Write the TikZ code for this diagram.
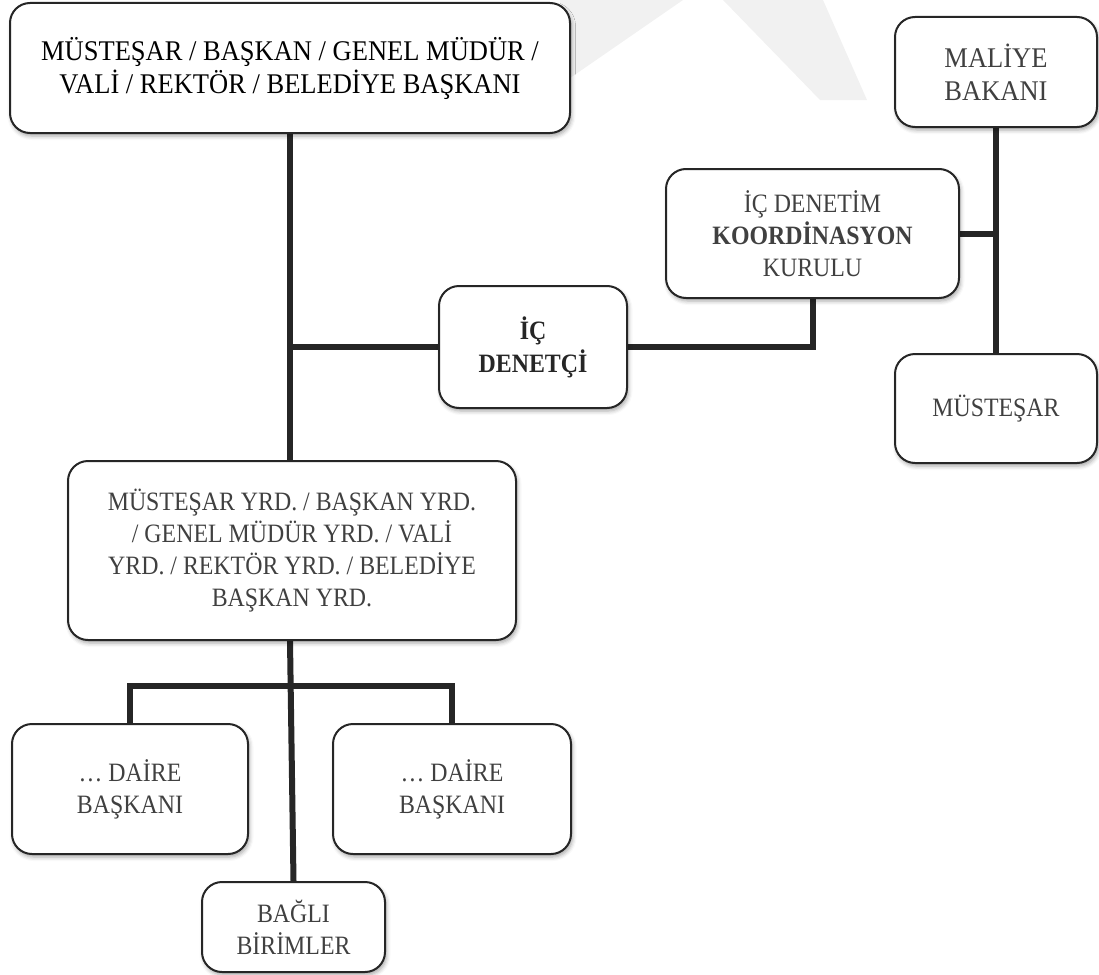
\documentclass[tikz,border=0pt]{standalone}
\usepackage{fontspec}
\setmainfont{Liberation Serif}
\newfontfamily\camfont[FakeStretch=0.9]{Liberation Serif}
\newfontfamily\tnrfont[FakeStretch=0.93]{Liberation Serif}
\usetikzlibrary{shadows.blur}
\definecolor{ink}{RGB}{38,38,38}
\definecolor{txt}{RGB}{64,64,64}
\definecolor{markgray}{RGB}{241,241,241}
\pgfdeclarelayer{bg}
\pgfsetlayers{bg,main}
\begin{document}
\begin{tikzpicture}[x=1pt,y=-1pt,
  box/.style={draw=ink, line width=2pt, fill=white, rounded corners=20pt,
    inner sep=0pt, align=center, text=txt,
    font=\camfont\fontsize{26.5}{32}\selectfont,
    blur shadow={shadow xshift=1.5pt, shadow yshift=-3pt,
      shadow blur radius=4pt, shadow opacity=35}},
  timesbox/.style={box, font=\tnrfont\fontsize{28.5}{33}\selectfont},
  boldbox/.style={box, text=ink, font=\camfont\fontsize{26.5}{33}\selectfont\bfseries},
  link/.style={draw=ink, line width=6pt}
]
\useasboundingbox (0,0) rectangle (1099,974);

% boxes
\node[timesbox, text=black, minimum width=560pt, minimum height=130pt] (top) at (290,68)
  {MÜSTEŞAR / BAŞKAN / GENEL MÜDÜR /\\VALİ / REKTÖR / BELEDİYE BAŞKANI};
\node[timesbox, minimum width=202pt, minimum height=110pt] (maliye) at (996,72)
  {MALİYE\\BAKANI};
\node[box, minimum width=293pt, minimum height=129pt] (kurul) at (812.5,233.5)
  {İÇ DENETİM\\\textbf{KOORDİNASYON}\\KURULU};
\node[box, minimum width=202pt, minimum height=109pt] (mustesar) at (996,408.5)
  {MÜSTEŞAR};
\node[boldbox, minimum width=188pt, minimum height=122pt] (denetci) at (533,347)
  {İÇ\\DENETÇİ};
\node[box, minimum width=448pt, minimum height=179pt] (yrd) at (292,550.5)
  {MÜSTEŞAR YRD. / BAŞKAN YRD.\\/ GENEL MÜDÜR YRD. / VALİ\\YRD. / REKTÖR YRD. / BELEDİYE\\BAŞKAN YRD.};
\node[box, minimum width=236pt, minimum height=130pt] (daire1) at (130,789)
  {… DAİRE\\BAŞKANI};
\node[box, minimum width=238pt, minimum height=130pt] (daire2) at (452,789)
  {… DAİRE\\BAŞKANI};
\node[box, minimum width=183pt, minimum height=90pt] (bagli) at (293.5,927)
  {BAĞLI\\BİRİMLER};
\coordinate (fork) at (290,686);

\begin{pgfonlayer}{bg}
  % faint background mark
  \fill[markgray] (560,0) -- (683,0) -- (560,85) -- cycle;
  \fill[markgray] (723,0) -- (823,0) -- (867,100) -- (820,100) -- cycle;
  % connectors
  \draw[link] (top.south) -- (top.south |- yrd.north);
  \draw[link] (top.south |- denetci.west) -- (denetci.west);
  \draw[link] (denetci.east) -| (kurul.south);
  \draw[link] (maliye.south) -- (mustesar.north);
  \draw[link] (kurul.east) -- (kurul.east -| maliye.south);
  \draw[link] (top.south |- yrd.south) -- (bagli.north);
  \draw[link] (daire1.north) |- (fork) -| (daire2.north);
\end{pgfonlayer}
\end{tikzpicture}
\end{document}
